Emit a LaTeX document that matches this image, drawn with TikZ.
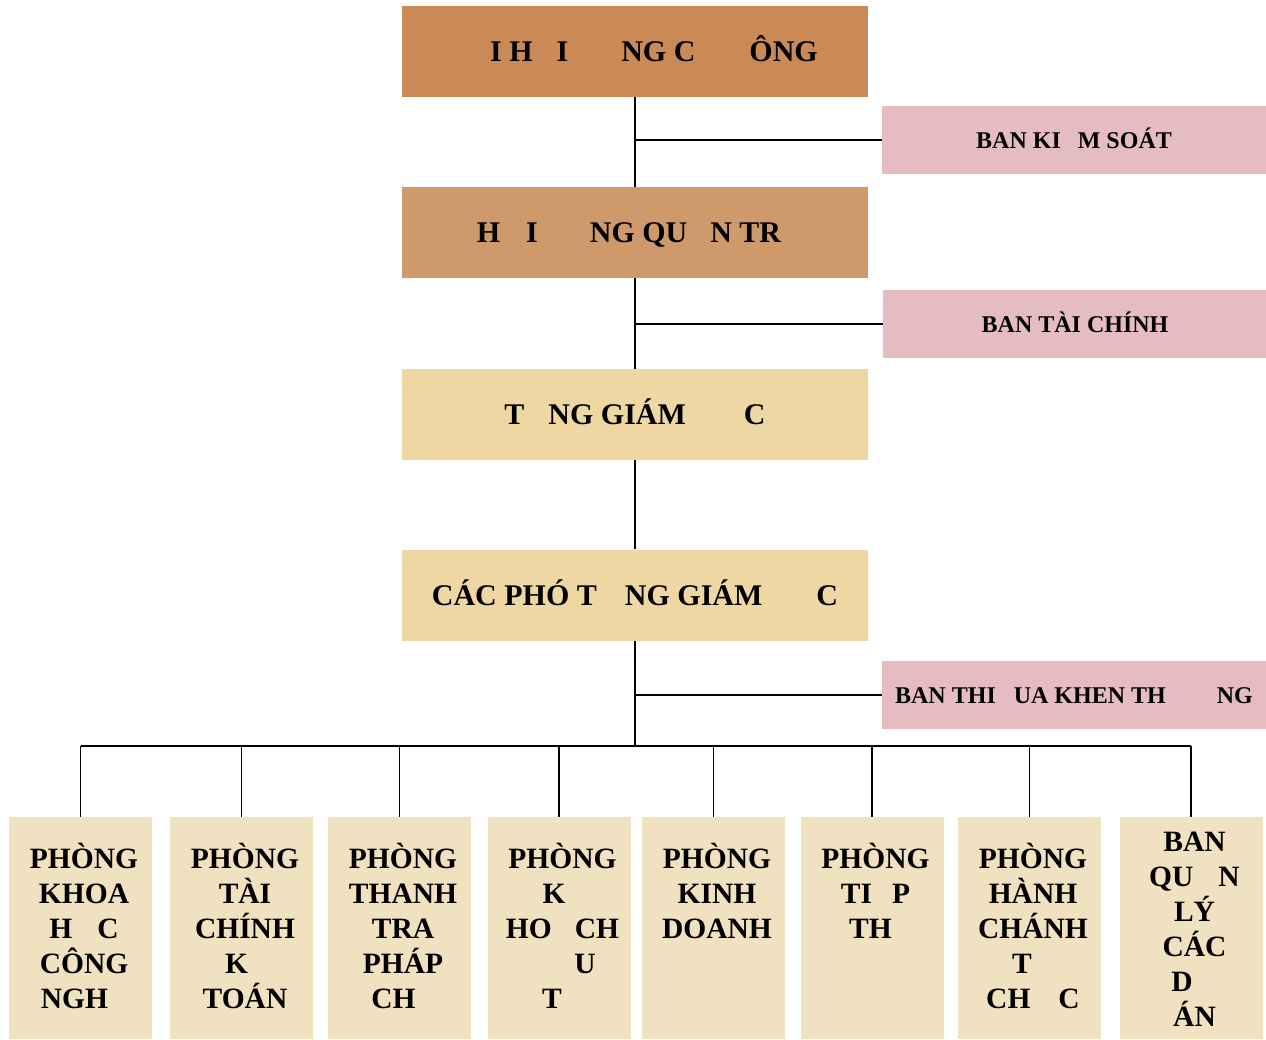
\documentclass[tikz,border=0pt]{standalone}
\usepackage{fontspec}
\setmainfont{Liberation Serif}
\usepackage{tikz}
\definecolor{wood}{RGB}{202,138,88}
\definecolor{cork}{RGB}{206,154,108}
\definecolor{papyrus}{RGB}{238,215,162}
\definecolor{rose}{RGB}{229,189,193}
\definecolor{parch}{RGB}{240,225,192}
\newcommand{\gap}[1]{\rule{#1pt}{0pt}}
\tikzset{
  topbox/.style={minimum width=466pt, minimum height=91pt, inner sep=0pt,
    text height=20pt, text depth=0pt, font=\fontsize{30}{36}\selectfont\bfseries},
  sidebox/.style={minimum width=384pt, minimum height=68pt, inner sep=0pt, fill=rose,
    text height=16pt, text depth=0pt, font=\fontsize{24}{29}\selectfont\bfseries},
  unitbox/.style={minimum width=143pt, minimum height=222pt, inner sep=0pt, fill=parch},
  unittext/.style={anchor=north, inner sep=0pt, xshift=3.5pt, yshift=-26pt, align=center,
    font=\fontsize{29.5}{35}\selectfont\bfseries},
  link/.style={line width=1.8pt}
}

\begin{document}
\begin{tikzpicture}[x=1pt,y=-1pt]
\useasboundingbox (0,0) rectangle (1266,1039);
% main chain
\node[topbox, fill=wood] (dhcd) at (635,51.5) {\gap{38}I H\gap{24}I\gap{53}NG C\gap{54}ÔNG};
\node[topbox, fill=cork] (hdqt) at (635,232.5) {H\gap{26}I\gap{52}NG QU\gap{23}N TR\gap{12}};
\node[topbox, fill=papyrus] (tgd) at (635,414.5) {T\gap{24}NG GIÁM\gap{58}C};
\node[topbox, fill=papyrus] (pho) at (635,595) {CÁC PHÓ T\gap{28}NG GIÁM\gap{54}C};
% side boards
\node[sidebox] (bks) at (1074,140) {BAN KI\gap{17}M SOÁT};
\node[sidebox] (btc) at (1075,324) {BAN TÀI CHÍNH};
\node[sidebox] (btd) at (1074,695) {BAN THI\gap{18}UA KHEN TH\gap{51}NG};
% departments
\node[unitbox, label={[unittext]north:PHÒNG\\KHOA\\H\gap{25}C\\CÔNG\\NGH\gap{19}}] (kh) at (80.5,928) {};
\node[unitbox, label={[unittext]north:PHÒNG\\TÀI\\CHÍNH\\K\gap{17}\\TOÁN}] (tc) at (241.5,928) {};
\node[unitbox, label={[unittext]north:PHÒNG\\THANH\\TRA\\PHÁP\\CH\gap{19}}] (tt) at (399.5,928) {};
\node[unitbox, label={[unittext]north:PHÒNG\\K\gap{17}\\HO\gap{23}CH\\\gap{45}U\\T\gap{21}}] (kt) at (559,928) {};
\node[unitbox, label={[unittext]north:PHÒNG\\KINH\\DOANH}] (kd) at (713.5,928) {};
\node[unitbox, label={[unittext]north:PHÒNG\\TI\gap{20}P\\TH\gap{10}}] (tp) at (872,928) {};
\node[unitbox, label={[unittext]north:PHÒNG\\HÀNH\\CHÁNH\\T\gap{22}\\CH\gap{28}C}] (hc) at (1029.5,928) {};
\node[unitbox, label={[unittext, yshift=11pt]north:BAN\\QU\gap{25}N\\LÝ\\CÁC\\D\gap{25}\\ÁN}] (da) at (1191,928) {};
\coordinate (bus) at (635,746);
\draw[link] (dhcd) -- (hdqt);
\draw[link] (hdqt) -- (tgd);
\draw[link] (tgd) -- (pho);
\draw[link] (pho) -- (bus);
\draw[link] (bks.west) -- (bks.west -| dhcd.south);
\draw[link] (btc.west) -- (btc.west -| hdqt.south);
\draw[link] (btd.west) -- (btd.west -| pho.south);
\draw[link] (kh.north |- bus) -- (da.north |- bus);
\foreach \u in {kh,tc,tt,kt,kd,tp,hc,da}
  \draw[link] (\u.north) -- (\u.north |- bus);
\end{tikzpicture}
\end{document}
